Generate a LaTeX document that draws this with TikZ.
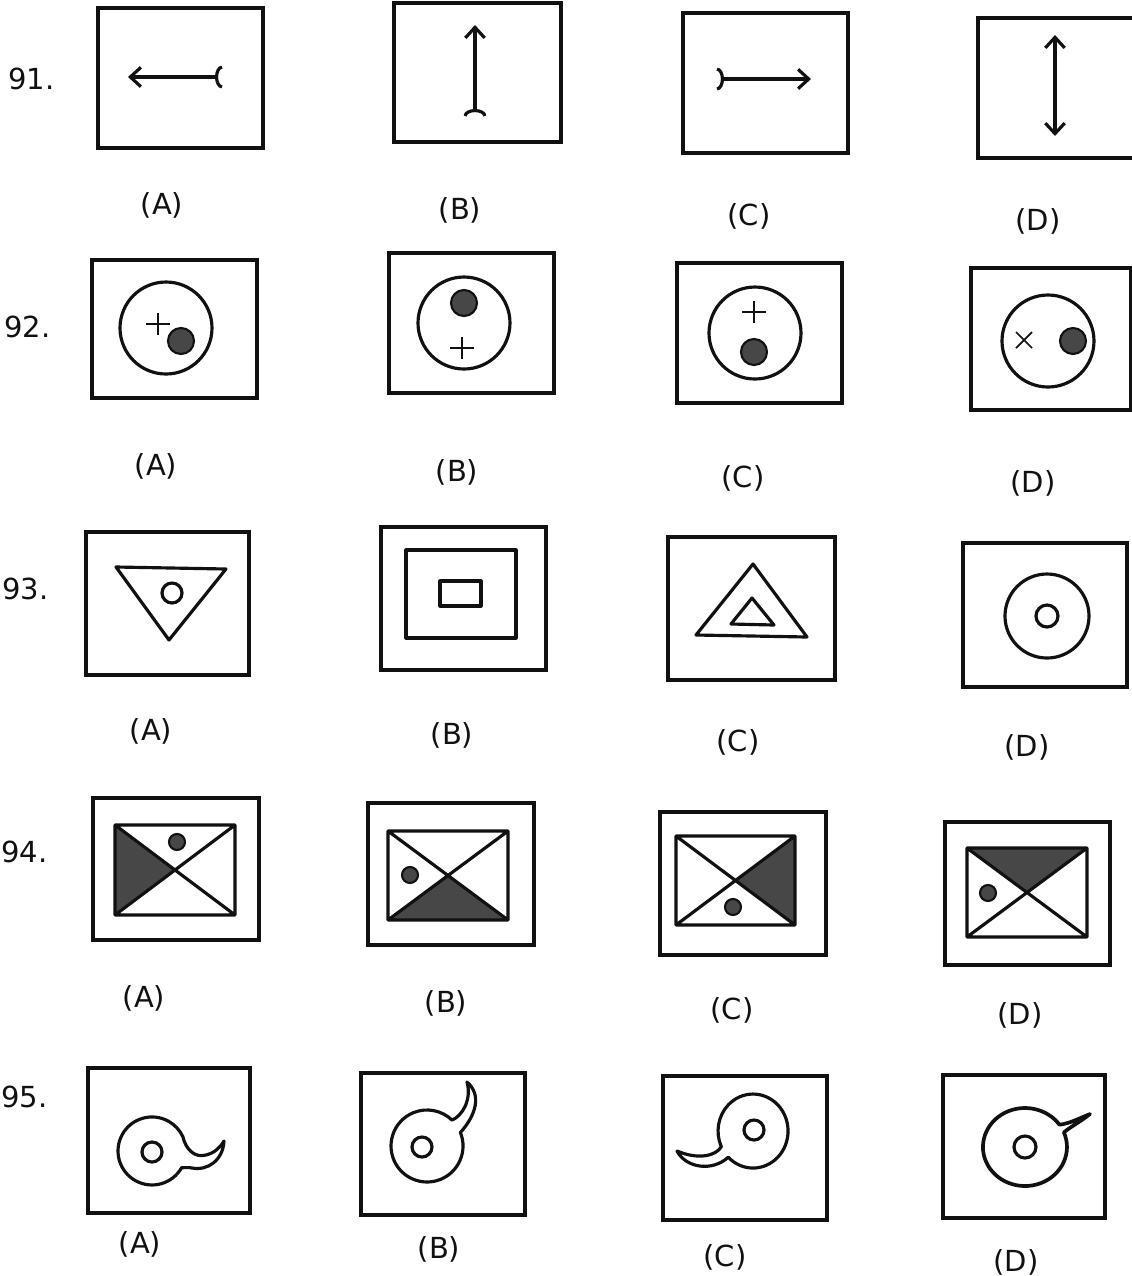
\documentclass[tikz,border=0pt]{standalone}
\usepackage{fontspec}
\setmainfont{DejaVu Sans}
\usepackage{tikz}
\usetikzlibrary{arrows.meta,calc}
\definecolor{ink}{HTML}{111111}
\definecolor{stipple}{HTML}{474747}

\tikzset{
  frame/.style={draw=ink, line width=2.1pt},
  figline/.style={draw=ink, line width=1.8pt, line join=round},
  thinline/.style={draw=ink, line width=1pt},
  spot/.style={draw=ink, fill=stipple, line width=1.2pt},
  shade/.style={fill=stipple},
  optlabel/.style={font=\fontsize{16.5}{18}\selectfont, text=ink, inner sep=0pt},
  qnum/.style={font=\fontsize{16.5}{18}\selectfont, text=ink, inner sep=0pt},
  arrhead/.tip={Straight Barb[length=6pt, width=11pt]},
  arrfork/.tip={Arc Barb[reversed, length=4pt, width=13pt]}
}

\begin{document}
\begin{tikzpicture}[x=0.02cm, y=-0.02cm]
  \fill[white] (0,0) rectangle (1132,1276);
  \useasboundingbox (0,0) rectangle (1132,1276);

  % Question numbers
  \foreach \q/\qx/\qy in {91/8/79, 92/4/327, 93/2/589, 94/1/852, 95/1/1097}
    \node[qnum, anchor=west] (q\q) at (\qx,\qy) {\q.};

  % Option labels under each figure
  \foreach \r/\o/\lx/\ly in {
    91/A/162/205, 91/B/460/210, 91/C/749/216, 91/D/1038/221,
    92/A/156/466, 92/B/457/472, 92/C/743/478, 92/D/1033/483,
    93/A/151/731, 93/B/452/735, 93/C/738/742, 93/D/1027/747,
    94/A/144/998, 94/B/446/1003, 94/C/732/1010, 94/D/1020/1015,
    95/A/140/1244, 95/B/439/1249, 95/C/725/1257, 95/D/1016/1262
  }
    \node[optlabel] (opt\r\o) at (\lx,\ly) {(\o)};

  % Frames
  \foreach \xa/\ya/\xb/\yb in {
    98/8/263/148, 394/3/561/142, 683/13/848/153, 978/18/1136/158,
    92/260/257/398, 389/253/554/393, 677/263/842/403, 971/268/1131/410,
    86/532/249/675, 381/527/546/670, 668/537/835/680, 963/543/1127/687,
    93/798/259/940, 368/803/534/945, 660/812/826/955, 945/822/1110/965,
    88/1068/250/1213, 361/1073/525/1215, 663/1076/827/1220, 943/1075/1105/1218
  }
    \draw[frame] (\xa,\ya) rectangle (\xb,\yb);

  % Row 91: arrows
  \draw[figline, arrhead-arrfork] (128,77) -- (222,77);
  \draw[figline, arrfork-arrhead] (475,116) -- (475,25);
  \draw[figline, arrfork-arrhead] (717,79) -- (811,79);
  \draw[figline, arrhead-arrhead] (1055,35) -- (1055,136);

  % Row 92: circle, plus / cross and dot
  \foreach \cx/\cy in {166/328, 464/323, 755/333, 1048/341}
    \draw[figline] (\cx,\cy) circle (46);
  \foreach \px/\py in {158/324, 462/348, 754/312}
    \draw[thinline] (\px,\py) +(-12,0) -- +(12,0) +(0,-11) -- +(0,11);
  \draw[thinline] (1024,340) +(-8,-8) -- +(8,8) +(-8,8) -- +(8,-8);
  \foreach \dx/\dy in {181/341, 464/303, 754/352, 1073/341}
    \draw[spot] (\dx,\dy) circle (13);

  % Row 93
  \draw[figline] (116,567) -- (226,569) -- (169,640) -- cycle;
  \draw[figline] (172,593) circle (10);
  \draw[figline] (406,550) rectangle (516,638);
  \draw[figline] (440,581) rectangle (481,606);
  \draw[figline] (753,564) -- (807,637) -- (696,635) -- cycle;
  \draw[figline] (752,598) -- (774,625) -- (731,624) -- cycle;
  \draw[figline] (1047,616) circle (42);
  \draw[figline] (1047,616) circle (11);

  % Row 94: crossed rectangles with one shaded quarter
  \foreach \xa/\ya/\xb/\yb/\sa/\sb/\dx/\dy in {
    115/825/235/915/nw/sw/177/842,
    388/831/508/920/sw/se/410/875,
    676/836/795/925/ne/se/733/907,
    967/848/1087/937/nw/ne/988/893
  } {
    \coordinate (nw) at (\xa,\ya);
    \coordinate (ne) at (\xb,\ya);
    \coordinate (sw) at (\xa,\yb);
    \coordinate (se) at (\xb,\yb);
    \coordinate (mid) at ($(nw)!0.5!(se)$);
    \fill[shade] (\sa) -- (\sb) -- (mid) -- cycle;
    \draw[figline] (nw) rectangle (se) (nw) -- (se) (ne) -- (sw);
    \draw[spot] (\dx,\dy) circle (8);
  }

  % Row 95: rings with a tail
  \draw[figline] (181.6,1167.7) arc[start angle=29.5, end angle=335, radius=34]
    .. controls (186,1150) and (195,1158) .. (206,1155)
    .. controls (214,1153) and (220,1148) .. (224,1141)
    .. controls (223,1160) and (208,1171) .. (192,1168)
    .. controls (188,1167) and (185,1168) .. cycle;
  \draw[figline] (152,1152) circle (10);

  \draw[figline] (460.4,1132.5) arc[start angle=-22, end angle=314, radius=36]
    .. controls (462,1116) and (472,1100) .. (467,1082)
    .. controls (482,1095) and (476,1115) .. cycle;
  \draw[figline] (422,1147) circle (10);

  \draw[figline] (728.3,1157.2) arc[start angle=135, end angle=-205, x radius=35, y radius=37]
    .. controls (716,1156) and (698,1160) .. (677,1151)
    .. controls (686,1168) and (712,1172) .. cycle;
  \draw[figline] (754,1130) circle (10);

  \draw[figline, line width=2.1pt] (1063.9,1132.4) arc[start angle=-22, end angle=325, x radius=42, y radius=39]
    .. controls (1068,1124) and (1078,1119) .. (1090,1114)
    .. controls (1080,1122) and (1070,1127) .. cycle;
  \draw[figline] (1025,1147) circle (11);

\end{tikzpicture}
\end{document}
